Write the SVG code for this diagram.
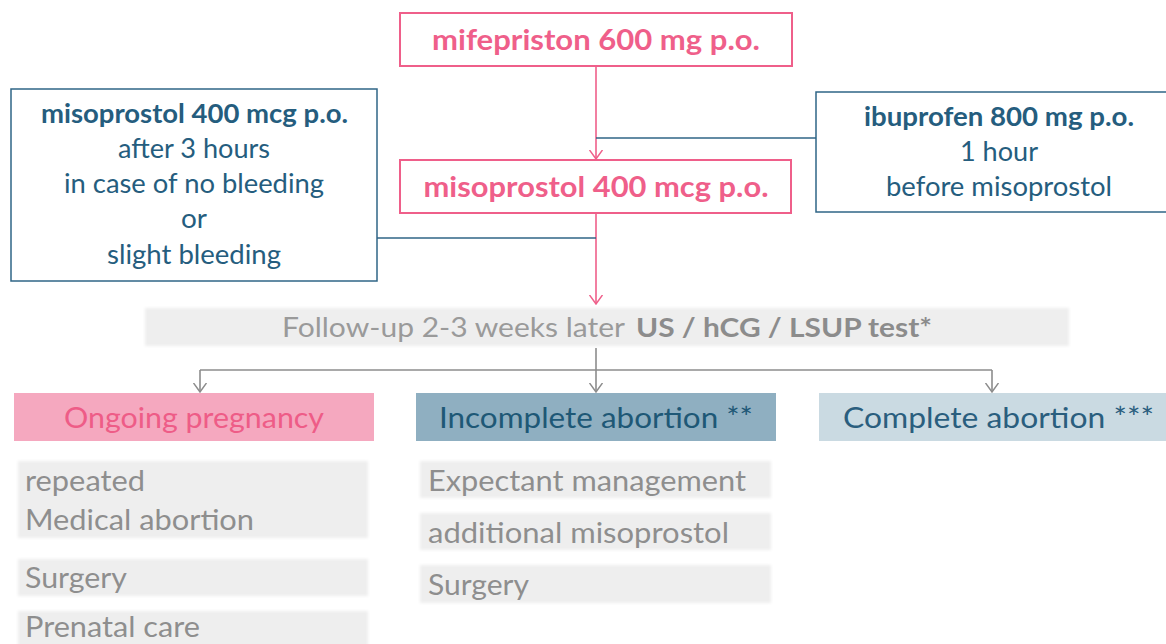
<svg xmlns="http://www.w3.org/2000/svg" width="1166" height="644" viewBox="0 0 1166 644">
<defs>
<style>
text{font-family:Lato,"Open Sans","Liberation Sans",sans-serif}
.pk{fill:#fff;stroke:#EF5F8A;stroke-width:2}
.pkt{fill:#EF5F8A;font-size:29px;font-weight:bold;text-anchor:middle}
.tl{fill:#fff;stroke:#2F6586;stroke-width:1.5}
.tt{fill:#255D7E;font-size:26px;text-anchor:middle}
.b{font-weight:bold}
.gb{fill:#EEEEEE;filter:url(#soft)}
.gt{fill:#8E8E8E;font-size:28px}
.cat{font-size:28px;text-anchor:middle}
.cp{stroke:#EF5F8A;stroke-width:1.6;fill:none}
.ct{stroke:#2F6586;stroke-width:1.5;fill:none}
.cg{stroke:#8C8C8C;stroke-width:1.6;fill:none}
</style>
<filter id="soft" x="-5%" y="-20%" width="110%" height="140%"><feGaussianBlur stdDeviation="1.5"/></filter>
<marker id="ap" viewBox="0 0 10 14" refX="9" refY="7" markerWidth="10" markerHeight="14" markerUnits="userSpaceOnUse" orient="auto"><path d="M0,0.5 L9,7 L0,13.5" fill="none" stroke="#EF5F8A" stroke-width="1.5"/></marker>
<marker id="ag" viewBox="0 0 10 14" refX="9" refY="7" markerWidth="10" markerHeight="14" markerUnits="userSpaceOnUse" orient="auto"><path d="M0,0.5 L9,7 L0,13.5" fill="none" stroke="#8C8C8C" stroke-width="1.5"/></marker>
</defs>
<rect width="1166" height="644" fill="#fff"/>

<g id="connectors">
<line class="cp" x1="596" y1="66" x2="596" y2="159" marker-end="url(#ap)"/>
<line class="cp" x1="596" y1="213" x2="596" y2="304" marker-end="url(#ap)"/>
<line class="ct" x1="816" y1="138" x2="596" y2="138"/>
<line class="ct" x1="377" y1="238" x2="596" y2="238"/>
<line class="cg" x1="596" y1="348" x2="596" y2="392" marker-end="url(#ag)"/>
<line class="cg" x1="200" y1="370" x2="992" y2="370"/>
<line class="cg" x1="200" y1="370" x2="200" y2="392" marker-end="url(#ag)"/>
<line class="cg" x1="992" y1="370" x2="992" y2="392" marker-end="url(#ag)"/>
</g>

<g id="mifepriston">
<rect class="pk" x="400" y="13" width="392" height="53"/>
<text class="pkt" x="596" y="50" textLength="328" lengthAdjust="spacingAndGlyphs">mifepriston 600 mg p.o.</text>
</g>

<g id="misoprostol">
<rect class="pk" x="400" y="160" width="391" height="53"/>
<text class="pkt" x="596" y="197" textLength="345" lengthAdjust="spacingAndGlyphs">misoprostol 400 mcg p.o.</text>
</g>

<g id="misoprostol-repeat">
<rect class="tl" x="11" y="89" width="366" height="192"/>
<text class="tt b" x="194.5" y="123" textLength="307" lengthAdjust="spacingAndGlyphs">misoprostol 400 mcg p.o.</text>
<text class="tt" x="194" y="158" textLength="152" lengthAdjust="spacingAndGlyphs">after 3 hours</text>
<text class="tt" x="194" y="193" textLength="260" lengthAdjust="spacingAndGlyphs">in case of no bleeding</text>
<text class="tt" x="194" y="228" textLength="26" lengthAdjust="spacingAndGlyphs">or</text>
<text class="tt" x="194" y="264" textLength="174" lengthAdjust="spacingAndGlyphs">slight bleeding</text>
</g>

<g id="ibuprofen">
<rect class="tl" x="816" y="92" width="360" height="120"/>
<text class="tt b" x="999" y="126" textLength="270" lengthAdjust="spacingAndGlyphs">ibuprofen 800 mg p.o.</text>
<text class="tt" x="999" y="161" textLength="78" lengthAdjust="spacingAndGlyphs">1 hour</text>
<text class="tt" x="999" y="196" textLength="226" lengthAdjust="spacingAndGlyphs">before misoprostol</text>
</g>

<g id="follow-up">
<rect class="gb" x="145" y="308" width="924" height="38"/>
<text x="282" y="337" fill="#9A9A9A" font-size="26" textLength="343" lengthAdjust="spacingAndGlyphs">Follow-up 2-3 weeks later</text>
<text x="636" y="337" fill="#8C8C8C" font-size="26" font-weight="bold" textLength="296" lengthAdjust="spacingAndGlyphs">US / hCG / LSUP test*</text>
</g>

<g id="ongoing">
<rect x="14" y="393" width="360" height="48" fill="#F5A8BF"/>
<text class="cat" x="194" y="428" fill="#EE5C87" textLength="260" lengthAdjust="spacingAndGlyphs">Ongoing pregnancy</text>
</g>

<g id="incomplete">
<rect x="416" y="393" width="360" height="48" fill="#8FAFC1"/>
<text class="cat" x="596" y="428" fill="#1E5876" textLength="314" lengthAdjust="spacingAndGlyphs">Incomplete abortion **</text>
</g>

<g id="complete">
<rect x="819" y="393" width="350" height="48" fill="#CADAE2"/>
<text class="cat" x="998.5" y="428" fill="#2A5E7E" textLength="311" lengthAdjust="spacingAndGlyphs">Complete abortion ***</text>
</g>

<g id="ongoing-repeated">
<rect class="gb" x="18" y="461" width="350" height="77"/>
<text class="gt" x="25" y="491" textLength="120" lengthAdjust="spacingAndGlyphs">repeated</text>
<text class="gt" x="25" y="530" textLength="229" lengthAdjust="spacingAndGlyphs">Medical abortion</text>
</g>
<g id="ongoing-surgery">
<rect class="gb" x="18" y="559" width="350" height="37"/>
<text class="gt" x="25" y="588" textLength="102" lengthAdjust="spacingAndGlyphs">Surgery</text>
</g>
<g id="ongoing-prenatal">
<rect class="gb" x="18" y="611" width="350" height="40"/>
<text class="gt" x="25" y="637" textLength="175" lengthAdjust="spacingAndGlyphs">Prenatal care</text>
</g>

<g id="incomplete-expectant">
<rect class="gb" x="420" y="461" width="351" height="37"/>
<text class="gt" x="428" y="491" textLength="318" lengthAdjust="spacingAndGlyphs">Expectant management</text>
</g>
<g id="incomplete-misoprostol">
<rect class="gb" x="420" y="513" width="351" height="37"/>
<text class="gt" x="428" y="543" textLength="301" lengthAdjust="spacingAndGlyphs">additional misoprostol</text>
</g>
<g id="incomplete-surgery">
<rect class="gb" x="420" y="565" width="351" height="38"/>
<text class="gt" x="428" y="595" textLength="101" lengthAdjust="spacingAndGlyphs">Surgery</text>
</g>
</svg>
